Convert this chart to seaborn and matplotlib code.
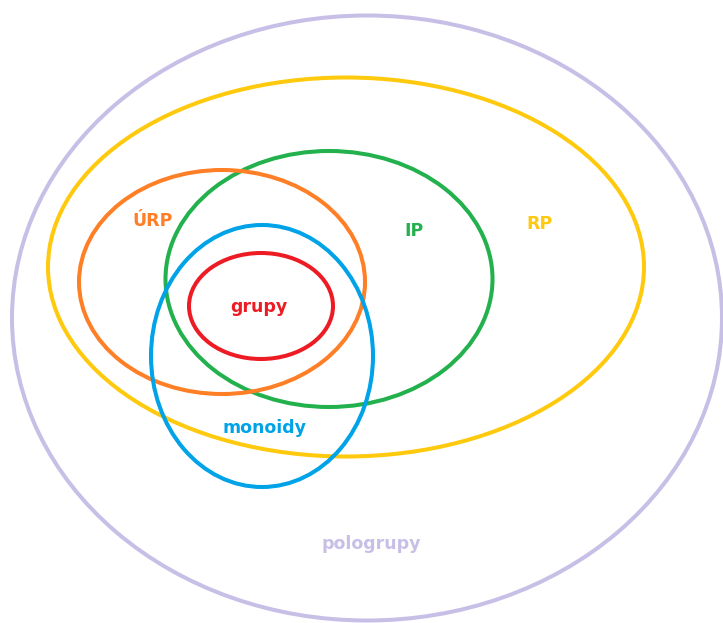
import matplotlib
matplotlib.use('Agg')
import matplotlib.pyplot as plt
import seaborn as sns
from matplotlib.patches import Ellipse

sns.set_theme(style='white')
plt.rcParams['font.family'] = ['DejaVu Sans']

# Množiny (elipsy) – střed, šířka, výška v pixelech
names = ['pologrupy', 'RP', 'IP', 'ÚRP', 'monoidy', 'grupy']
cx = [367, 346, 329, 222, 262, 261]
cy = [318, 267, 279, 282, 356, 306]
widths = [710, 596, 327, 286, 222, 144]
heights = [605, 379, 256, 224, 262, 106]
colors = ['#c8bfe7', '#ffc90e', '#22b14c', '#ff7f27', '#00a2e8', '#ed1c24']

# Popisky
label_x = [371, 540, 414, 153, 264, 259]
label_y = [544, 224, 231, 221, 428, 307]

fig = plt.figure(figsize=(7.23, 6.23), dpi=100)
ax = fig.add_axes([0, 0, 1, 1])
ax.set_xlim(0, 723)
ax.set_ylim(623, 0)
ax.set_axis_off()

for x, y, w, h, c in zip(cx, cy, widths, heights, colors):
    ax.add_patch(Ellipse((x, y), w, h, fill=False, edgecolor=c, linewidth=2.9))

for name, x, y, c in zip(names, label_x, label_y, colors):
    ax.text(x, y, name, color=c, fontsize=12.5, fontweight='bold', ha='center', va='center')

fig.savefig('out.png', dpi=100, facecolor='white')
